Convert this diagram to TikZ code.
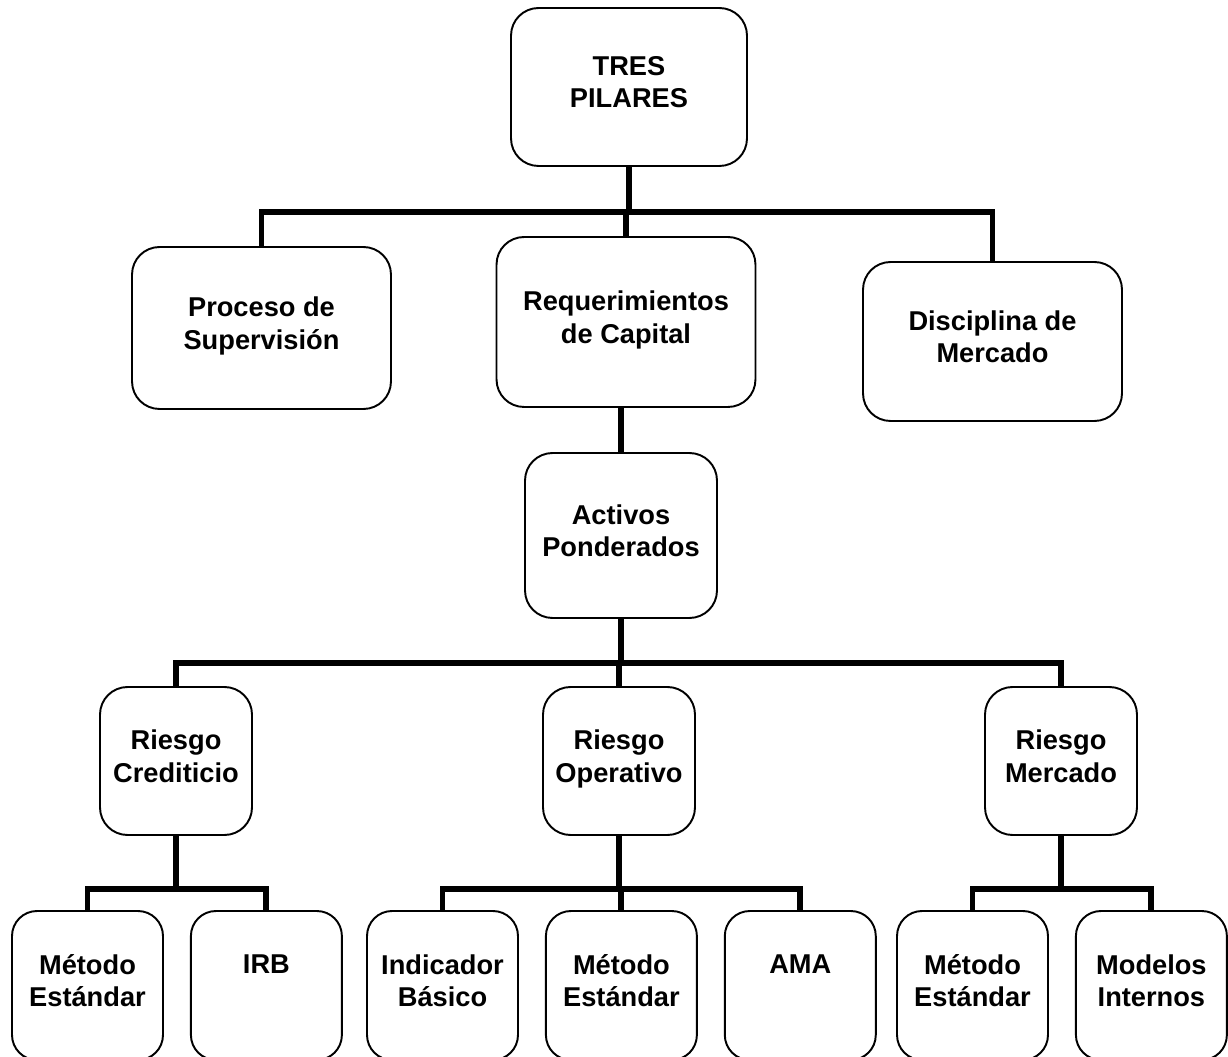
\documentclass[tikz,border=0pt]{standalone}
\usepackage{fontspec}
\setmainfont{Liberation Sans}
\usetikzlibrary{positioning}

\begin{document}
\begin{tikzpicture}[
x=0.02cm,y=-0.02cm,
node distance=0.52cm and 0.52cm,
box/.style={rectangle,draw,rounded corners=0.55cm,line width=1.1pt,align=center,inner sep=0pt,
  text depth=0.2cm,font=\fontsize{15.5}{18.5}\selectfont\bfseries},
pillar/.style={box,minimum width=5.18cm,minimum height=3.24cm},
risk/.style={box,minimum width=3.04cm,minimum height=2.96cm},
leaf/.style={box,rounded corners=0.5cm,minimum width=3.02cm,minimum height=2.98cm},
link/.style={line width=3.4pt}
]
\useasboundingbox (0,0) rectangle (1228,1057);
\clip (0,0) rectangle (1228,1057);

% niveles superiores
\node[box,minimum width=4.72cm,minimum height=3.16cm] (top) at (629,87) {TRES\\PILARES};
\node[pillar] (sup) at (261.5,328) {Proceso de\\Supervisión};
\node[pillar,minimum height=3.4cm] (cap) at (626,322) {Requerimientos\\de Capital};
\node[pillar,minimum height=3.18cm] (disc) at (992.5,341.5) {Disciplina de\\Mercado};
\node[box,minimum width=3.84cm,minimum height=3.3cm] (act) at (621,535.5) {Activos\\Ponderados};

% riesgos
\node[risk] (cred) at (176,761) {Riesgo\\Crediticio};
\node[risk] (oper) at (619,761) {Riesgo\\Operativo};
\node[risk] (merc) at (1061,761) {Riesgo\\Mercado};

% metodos
\node[leaf] (metc) at (87.5,985.5) {Método\\Estándar};
\node[leaf,right=of metc] (irb) {IRB\\\mbox{}};
\node[leaf] (ind) at (442.5,985.5) {Indicador\\Básico};
\node[leaf,right=of ind] (meto) {Método\\Estándar};
\node[leaf,right=of meto] (ama) {AMA\\\mbox{}};
\node[leaf] (metm) at (972.5,985.5) {Método\\Estándar};
\node[leaf,right=of metm] (mod) {Modelos\\Internos};

\coordinate (busA) at (628,212);
\coordinate (busB) at (621,663);
\coordinate (busC) at (0,889);

\draw[link] (top.south) -- (top.south |- busA);
\draw[link] (sup.north) -- (sup.north |- busA) -- (disc.north |- busA) -- (disc.north);
\draw[link] (cap.north) -- (cap.north |- busA);
\draw[link] (act.north |- cap.south) -- (act.north);

\draw[link] (act.south) -- (act.south |- busB);
\draw[link] (cred.north) -- (cred.north |- busB) -- (merc.north |- busB) -- (merc.north);
\draw[link] (oper.north) -- (oper.north |- busB);

\draw[link] (cred.south) -- (cred.south |- busC);
\draw[link] (metc.north) -- (metc.north |- busC) -- (irb.north |- busC) -- (irb.north);
\draw[link] (oper.south) -- (oper.south |- busC);
\draw[link] (ind.north) -- (ind.north |- busC) -- (ama.north |- busC) -- (ama.north);
\draw[link] (meto.north) -- (meto.north |- busC);
\draw[link] (merc.south) -- (merc.south |- busC);
\draw[link] (metm.north) -- (metm.north |- busC) -- (mod.north |- busC) -- (mod.north);
\end{tikzpicture}
\end{document}
